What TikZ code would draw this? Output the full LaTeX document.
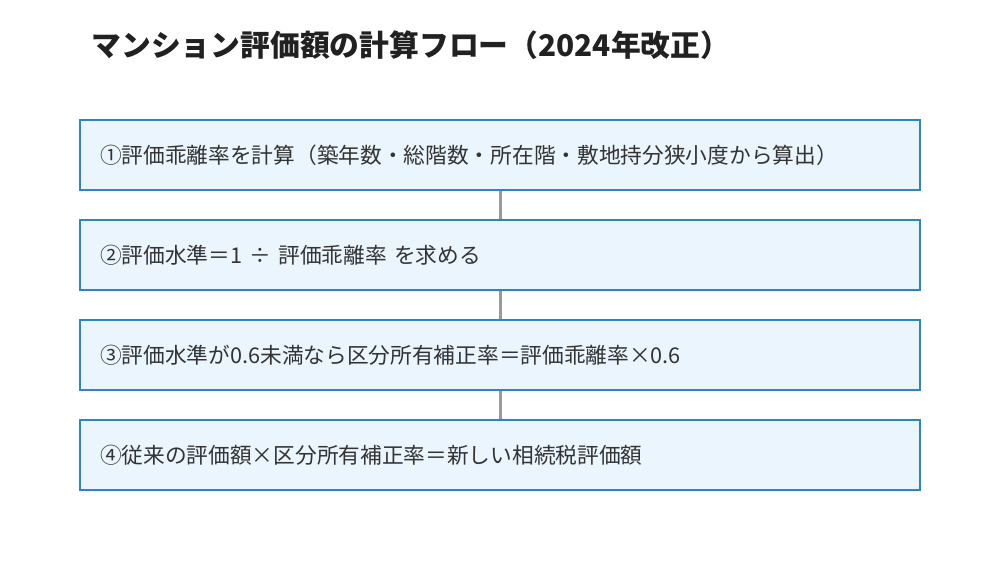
\documentclass[tikz,border=0pt]{standalone}
\usepackage{fontspec}
\setmainfont{Noto Sans CJK JP}
\usepackage{xcolor}
\usepackage{tikz}

\definecolor{boxblue}{HTML}{2E86C1}
\definecolor{boxfill}{HTML}{EAF5FE}
\definecolor{linkgray}{HTML}{9A9A9A}
\definecolor{textgray}{HTML}{333333}

\begin{document}
\begin{tikzpicture}[x=1pt, y=-1pt,
    stepbox/.style={draw=boxblue, fill=boxfill, line width=2pt,
      minimum width=840pt, minimum height=70pt, text width=800pt,
      inner xsep=20pt, align=left, text=textgray,
      font=\fontsize{21.7}{26}\selectfont},
    link/.style={draw=linkgray, line width=3pt}]
             \useasboundingbox (0, 0) rectangle (1000, 560);

             \node[anchor=west, font=\fontsize{29.8}{34}\selectfont\bfseries, text=black!87] (title) at (88, 45) {マンション評価額の計算フロー（2024年改正）};

             \node[stepbox] (s1) at (500, 155) {①評価乖離率を計算（築年数・総階数・所在階・敷地持分狭小度から算出）};
             \node[stepbox] (s2) at (500, 255) {②評価水準＝1 ÷ 評価乖離率 を求める};
             \node[stepbox] (s3) at (500, 355) {③評価水準が0.6未満なら区分所有補正率＝評価乖離率×0.6};
             \node[stepbox] (s4) at (500, 455) {④従来の評価額×区分所有補正率＝新しい相続税評価額};

             \draw[link] (s1) -- (s2);
             \draw[link] (s2) -- (s3);
             \draw[link] (s3) -- (s4);

             \end{tikzpicture}
\end{document}
